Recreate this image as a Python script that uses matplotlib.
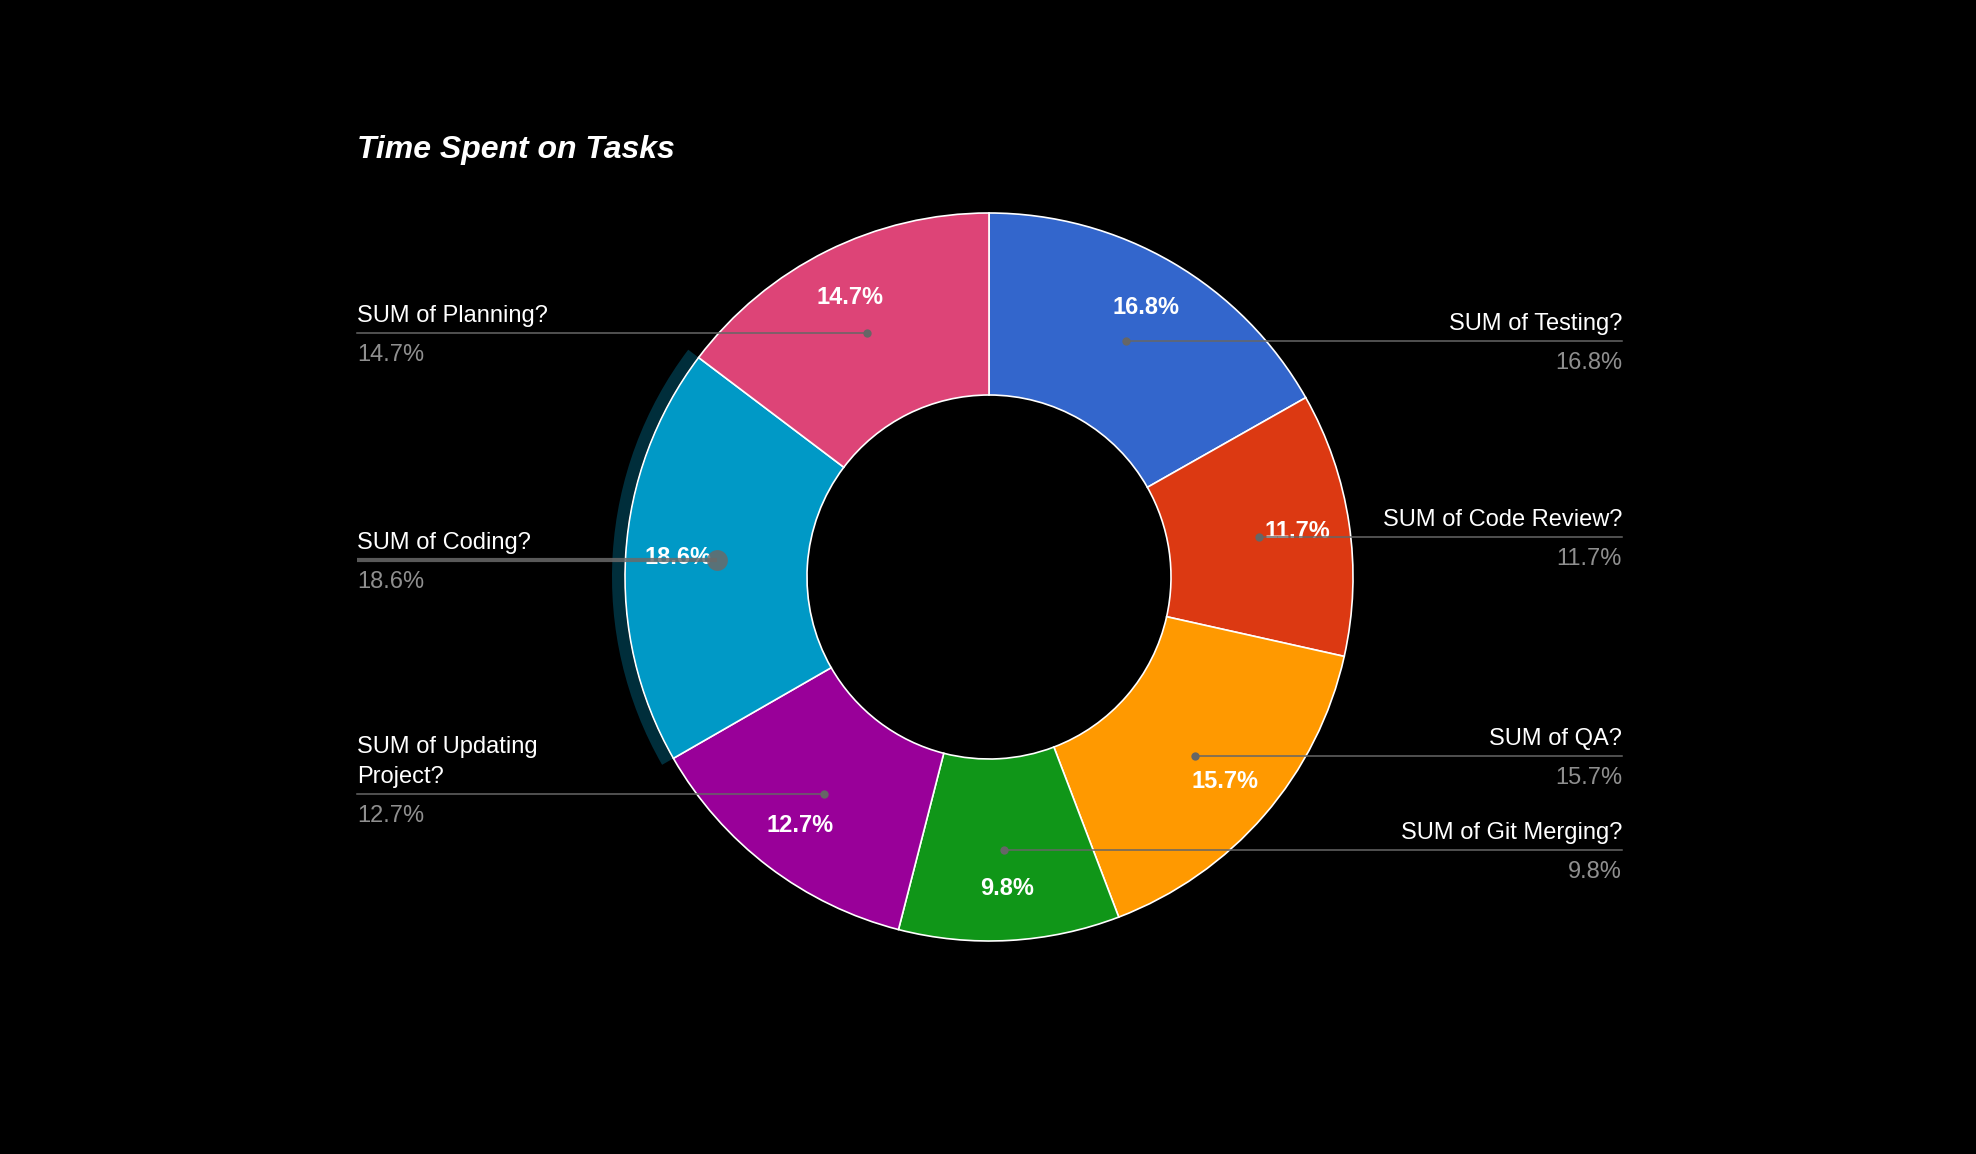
"""
Donut chart of time spent on tasks, dark theme with side labels.
"""
import numpy as np
import matplotlib
matplotlib.use('Agg')
import matplotlib.pyplot as plt
from matplotlib.patches import Wedge

plt.rcParams['font.family'] = ['Liberation Sans', 'DejaVu Sans']

W, H = 1976, 1154

tasks = ['SUM of Testing?', 'SUM of Code Review?', 'SUM of QA?', 'SUM of Git Merging?',
         'SUM of Updating\nProject?', 'SUM of Coding?', 'SUM of Planning?']
shares = [16.8, 11.7, 15.7, 9.8, 12.7, 18.6, 14.7]
colors = ['#3366cc', '#dc3912', '#ff9900', '#109618', '#990099', '#0099c6', '#dd4477']
highlight = 'SUM of Coding?'

CENTER = (989, H - 577)
R_OUT = 364
R_IN = 182
LEFT_X = 357
RIGHT_X = 1622


def draw_side_label(ax, name, pct, dot, side, hot):
    """Leader line from the slice to the label column, name above and value below."""
    dx, dy = dot
    if side == 'right':
        xs, tx, ha = [dx, RIGHT_X], RIGHT_X, 'right'
    else:
        xs, tx, ha = [LEFT_X, dx], LEFT_X, 'left'
    if hot:
        ax.plot(xs, [dy, dy], color='#6a6a6a', lw=3.0, alpha=0.85, solid_capstyle='butt', zorder=6)
        ax.plot(dx, dy, 'o', color='#6a6a6a', ms=15, alpha=0.85, mec='none', zorder=6)
    else:
        ax.plot(xs, [dy, dy], color='#666666', lw=1.1, zorder=6)
        ax.plot(dx, dy, 'o', color='#666666', ms=6, mec='none', zorder=6)

    lines = name.split('\n')
    for i, ln in enumerate(reversed(lines)):
        ax.text(tx, dy + 11 + 30 * i, ln, color='white', fontsize=17,
                ha=ha, va='baseline', zorder=7)
    ax.text(tx, dy - 28, '%.1f%%' % pct, color='#8f8f8f', fontsize=17,
            ha=ha, va='baseline', zorder=7)


def main():
    fig = plt.figure(figsize=(W / 100, H / 100), dpi=100, facecolor='black')
    ax = fig.add_axes([0, 0, 1, 1])
    ax.set_facecolor('black')

    wedges, _ = ax.pie(shares, colors=colors, startangle=90, counterclock=False,
                       radius=R_OUT, center=CENTER,
                       wedgeprops=dict(width=R_OUT - R_IN, edgecolor='white', linewidth=1.2))

    for w, name, pct, col in zip(wedges, tasks, shares, colors):
        mid = np.deg2rad((w.theta1 + w.theta2) / 2)
        # value inside the slice
        lx = CENTER[0] + 0.857 * R_OUT * np.cos(mid)
        ly = CENTER[1] + 0.857 * R_OUT * np.sin(mid)
        ax.text(lx, ly, '%.1f%%' % pct, color='white', fontsize=17, fontweight='bold',
                ha='center', va='center', zorder=5)

        hot = name == highlight
        if hot:
            ax.add_patch(Wedge(CENTER, R_OUT + 13, w.theta1, w.theta2, width=12,
                               facecolor=col, alpha=0.3, edgecolor='none'))

        r_mid = (R_OUT + R_IN) / 2
        dot = (CENTER[0] + r_mid * np.cos(mid), CENTER[1] + r_mid * np.sin(mid))
        side = 'right' if np.cos(mid) > 0 else 'left'
        draw_side_label(ax, name, pct, dot, side, hot)

    ax.text(LEFT_X, H - 150, 'Time Spent on Tasks', color='white', fontsize=23,
            fontweight='bold', fontstyle='italic', ha='left', va='center')

    ax.set_xlim(0, W)
    ax.set_ylim(0, H)
    ax.set_aspect('equal')
    ax.axis('off')
    fig.savefig('out.png', dpi=100, facecolor='black')


if __name__ == '__main__':
    main()
